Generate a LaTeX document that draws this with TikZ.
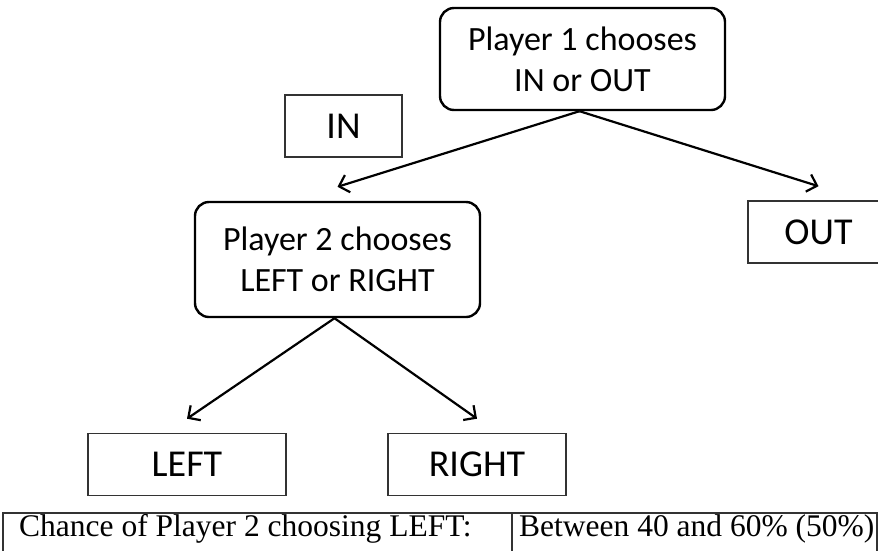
\documentclass[tikz,border=0pt]{standalone}
\usepackage{fontspec}
\setmainfont{Liberation Serif}
\newfontfamily\boxfont{Carlito}
\usetikzlibrary{arrows.meta, positioning}

\begin{document}
\begin{tikzpicture}
	[%
	x=1pt, y=-1pt,%
	choice/.style ={rectangle,	draw=black,	rounded corners=14pt,	line width=2.4pt,	inner sep=0pt,	minimum width=285pt,	align=center,	font=\boxfont\fontsize{34}{41}\selectfont},%
	leaf/.style   ={rectangle,	draw=black!80,	line width=1.6pt,	inner sep=0pt,	minimum height=62pt,	font=\boxfont\fontsize{38}{44}\selectfont},%
	move/.style   ={-{Straight Barb[length=9pt,width=18pt]},	line width=2.2pt},%
	cell/.style   ={inner sep=0pt,	anchor=base west,	font=\fontsize{31.5}{36}\selectfont},%
	rule/.style   ={draw=black!80,	line width=1.6pt},%
	]

	\clip (0,0) rectangle (878,550);

	% nodes
	\node (p1)		at (582.5,59)		[choice, minimum height=102pt] {Player 1 chooses\\IN or OUT};
	\node (p2)		at (337.5,259.5)	[choice, minimum height=115pt] {Player 2 chooses\\LEFT or RIGHT};

	\node (in)		at (343.5,126)		[leaf, minimum width=117pt] {IN};
	\node (out)		at (818.5,232)		[leaf, minimum width=141pt] {OUT};
	\node (left)	at (187,464.5)		[leaf, minimum width=198pt] {LEFT};
	\node (right)	at (477,464.5)		[leaf, minimum width=178pt] {RIGHT};

	% moves
	\foreach \i/\o in {p1/p2, p1/out, p2/left, p2/right}
		\draw [move] ([xshift=-3pt]\i.south) to ([yshift=14pt]\o.north);

	% table
	\node (chance)	at (19,536)		[cell] {Chance of Player 2 choosing LEFT:};
	\node (range)	at (519,536)	[cell] {Between 40 and 60\% (50\%)};
	\draw [rule] (3,560) -- (3,513) -- (877,513) -- (877,560);
	\draw [rule] (512,513) -- (512,560);

\end{tikzpicture}
\end{document}
